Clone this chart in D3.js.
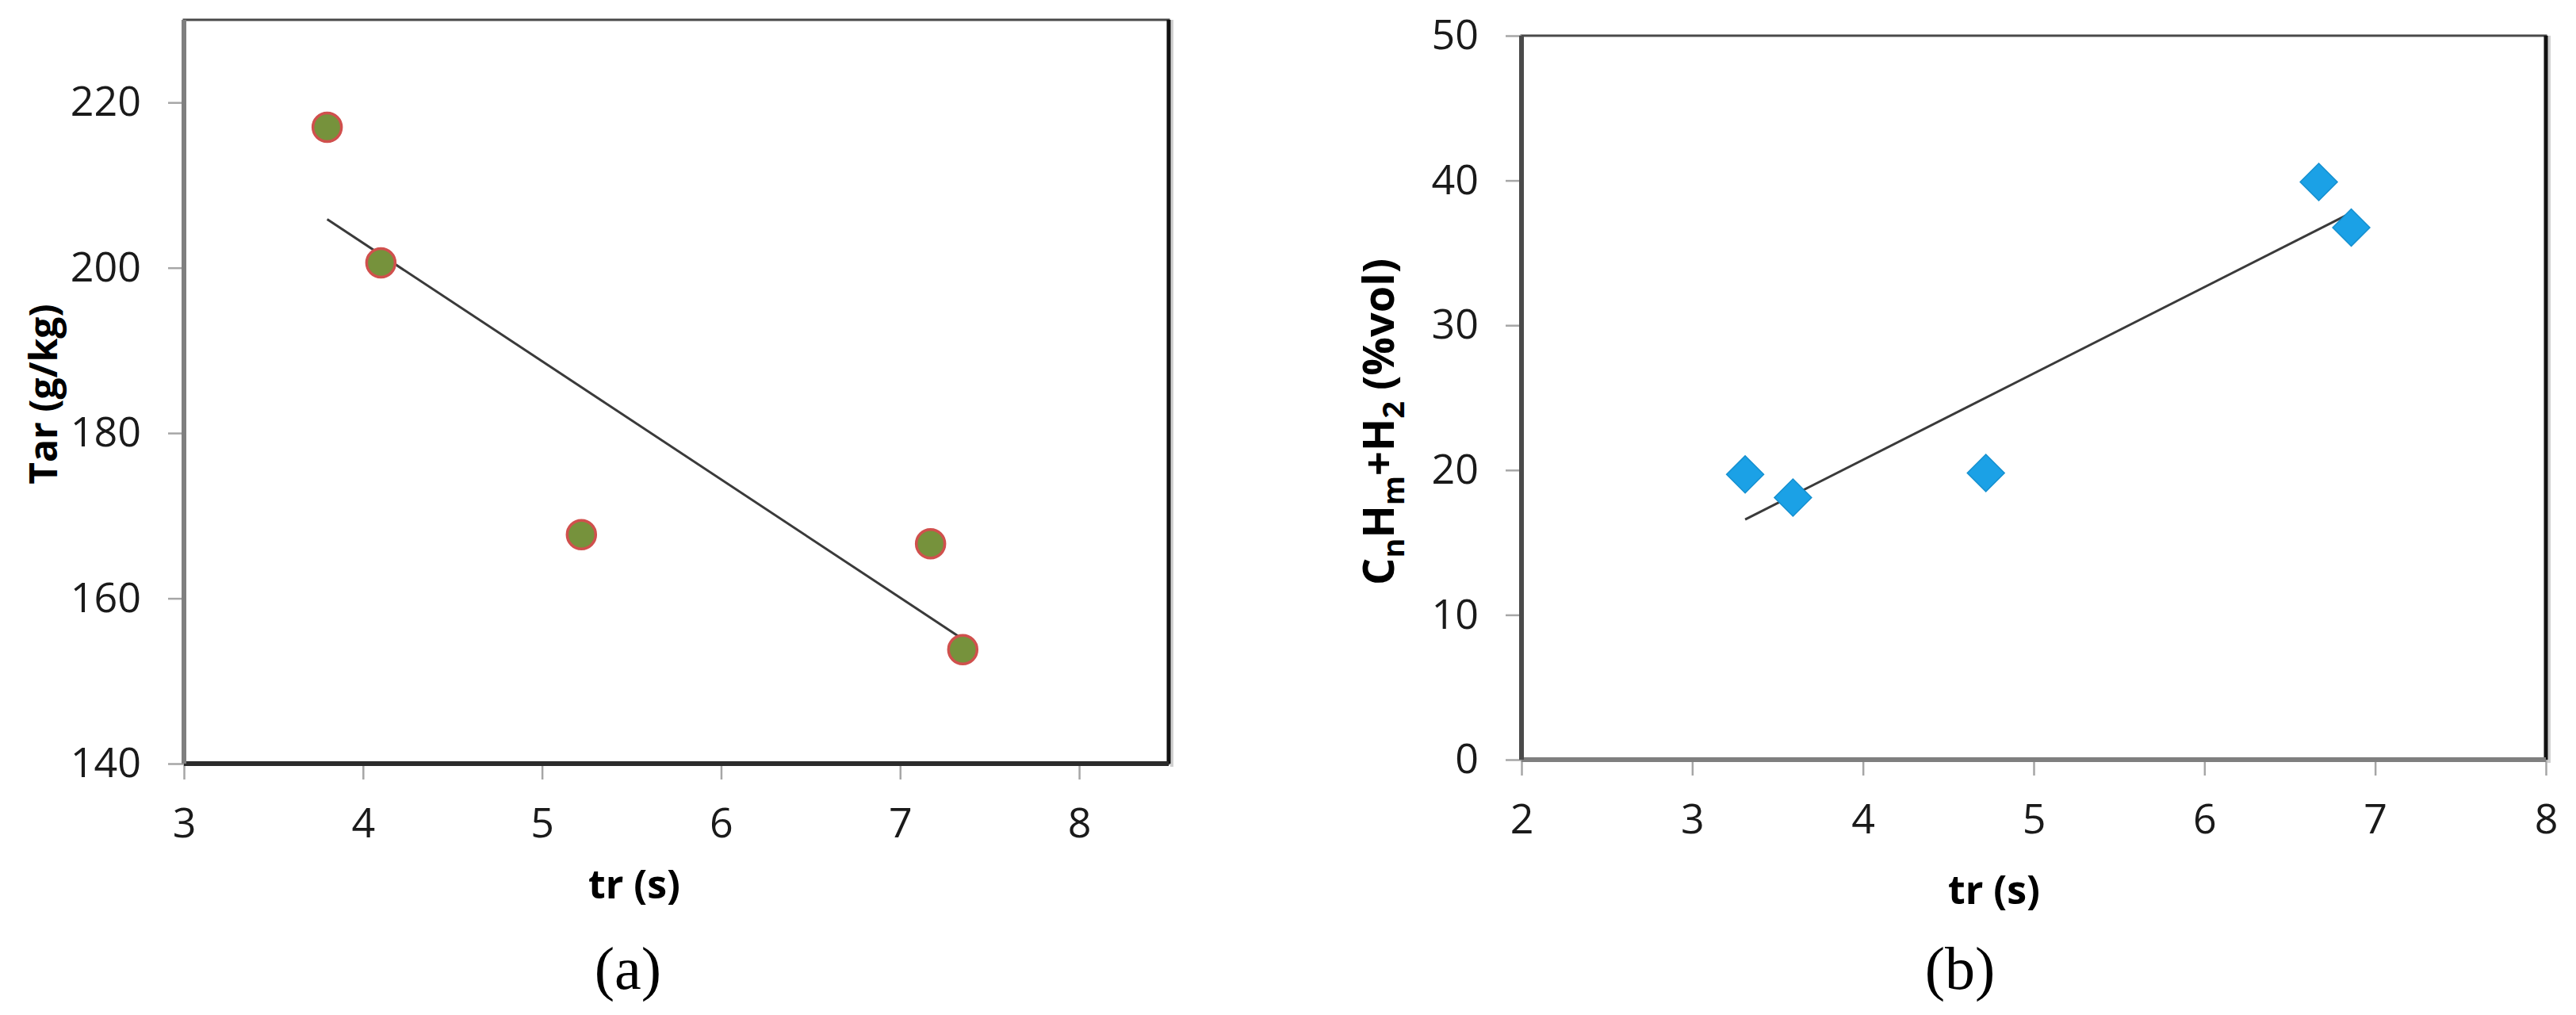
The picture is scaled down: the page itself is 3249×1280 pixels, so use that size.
<!DOCTYPE html>
<html>
<head>
<meta charset="utf-8">
<script src="https://cdn.jsdelivr.net/npm/d3@7"></script>
<style>
  body { margin: 0; background: #fff; }
  svg text { font-family: "Open Sans", "Noto Sans", sans-serif; }
</style>
</head>
<body>
<div id="chart"></div>
<script>
// Panel (a): tar yield vs residence time
const trA = [3.8, 4.1, 5.22, 7.17, 7.35];
const tarA = [217, 200.6, 167.7, 166.6, 153.8];
const xTicksA = [3, 4, 5, 6, 7, 8];
const yTicksA = [140, 160, 180, 200, 220];

// Panel (b): CnHm + H2 vs residence time
const trB = [3.31, 3.59, 4.72, 6.67, 6.86];
const gasB = [19.7, 18.1, 19.8, 39.9, 36.75];
const xTicksB = [2, 3, 4, 5, 6, 7, 8];
const yTicksB = [0, 10, 20, 30, 40, 50];

const W = 3249, H = 1280;

const svg = d3.select("#chart")
  .append("svg")
  .attr("width", W)
  .attr("height", H);

/************************************
 * least squares line, like excel trendline
 ************************************/
const fitLine = (xs, ys) => {
  const mx = d3.mean(xs), my = d3.mean(ys);
  const sxy = d3.sum(xs, (x, i) => (x - mx) * (ys[i] - my));
  const sxx = d3.sum(xs, x => (x - mx) * (x - mx));
  const b = sxy / sxx;
  const a = my - b * mx;
  const x0 = d3.min(xs), x1 = d3.max(xs);
  return [[x0, a + b * x0], [x1, a + b * x1]];
};

/************************************
 * draw one panel
 ************************************/
const drawPanel = (opt) => {
  const g = svg.append("g");
  const x = d3.scaleLinear().domain(opt.xDomain).range([opt.left, opt.right]);
  const y = d3.scaleLinear().domain(opt.yDomain).range([opt.bottom, opt.top]);

  // plot area frame
  g.append("rect")
    .attr("x", opt.left)
    .attr("y", opt.top)
    .attr("width", opt.right - opt.left)
    .attr("height", opt.bottom - opt.top)
    .attr("fill", "#fff")
    .attr("stroke", "#4a4a4a")
    .attr("stroke-width", 3);

  // right edge shadow
  g.append("line")
    .attr("x1", opt.right + 4).attr("x2", opt.right + 4)
    .attr("y1", opt.top).attr("y2", opt.bottom + 4)
    .attr("stroke", "#d0d0d0").attr("stroke-width", 4);
  g.append("line")
    .attr("x1", opt.right).attr("x2", opt.right)
    .attr("y1", opt.top).attr("y2", opt.bottom)
    .attr("stroke", "#111").attr("stroke-width", 5);

  // axes
  const xAxis = d3.axisBottom(x)
    .tickValues(opt.xTicks)
    .tickSize(20)
    .tickPadding(36)
    .tickFormat(d3.format("d"));
  const yAxis = d3.axisLeft(y)
    .tickValues(opt.yTicks)
    .tickSize(20)
    .tickPadding(34)
    .tickFormat(d3.format("d"));

  const gx = g.append("g")
    .attr("transform", "translate(0," + opt.bottom + ")")
    .call(xAxis);
  const gy = g.append("g")
    .attr("transform", "translate(" + opt.left + ",0)")
    .call(yAxis);

  [gx, gy].forEach(a => {
    a.select(".domain").remove();
    a.selectAll(".tick line").attr("stroke", "#a6a6a6").attr("stroke-width", 2.5);
    a.selectAll(".tick text")
      .attr("fill", "#1a1a1a")
      .style("font-size", "52px");
  });

  // axis lines
  g.append("line")
    .attr("x1", opt.left).attr("x2", opt.right)
    .attr("y1", opt.bottom).attr("y2", opt.bottom)
    .attr("stroke", opt.xLineColor).attr("stroke-width", 6);
  g.append("line")
    .attr("x1", opt.left).attr("x2", opt.left)
    .attr("y1", opt.top).attr("y2", opt.bottom)
    .attr("stroke", opt.yLineColor).attr("stroke-width", 6);

  // trend line
  const fit = fitLine(opt.xs, opt.ys);
  g.append("line")
    .attr("x1", x(fit[0][0])).attr("y1", y(fit[0][1]))
    .attr("x2", x(fit[1][0])).attr("y2", y(fit[1][1]))
    .attr("stroke", "#3a3a3a")
    .attr("stroke-width", 3);

  // points
  const pts = opt.xs.map((v, i) => [v, opt.ys[i]]);
  if (opt.marker === "circle") {
    g.selectAll("circle.pt")
      .data(pts)
      .enter()
      .append("circle")
      .attr("class", "pt")
      .attr("cx", d => x(d[0]))
      .attr("cy", d => y(d[1]))
      .attr("r", 18)
      .attr("fill", "#76923C")
      .attr("stroke", "#D0504D")
      .attr("stroke-width", 3.5);
  } else {
    g.selectAll("path.pt")
      .data(pts)
      .enter()
      .append("path")
      .attr("class", "pt")
      .attr("d", d3.symbol(d3.symbolSquare, 1100))
      .attr("transform", d => "translate(" + x(d[0]) + "," + y(d[1]) + ") rotate(45)")
      .attr("fill", "#1BA1E6")
      .attr("stroke", "#1590d0")
      .attr("stroke-width", 1.5);
  }

  // x axis title
  g.append("text")
    .attr("x", opt.xTitleX)
    .attr("y", opt.xTitleY)
    .attr("text-anchor", "middle")
    .style("font-size", "50px")
    .style("font-weight", "bold")
    .text("tr (s)");

  // panel letter
  g.append("text")
    .attr("x", opt.capX)
    .attr("y", 1247)
    .attr("text-anchor", "middle")
    .style("font-family", "'Liberation Serif', 'DejaVu Serif', serif")
    .style("font-size", "76px")
    .text("(" + opt.letter + ")");

  return g;
};

const ga = drawPanel({
  xs: trA, ys: tarA,
  xDomain: [3, 8.5], yDomain: [140, 230],
  xTicks: xTicksA, yTicks: yTicksA,
  left: 232, right: 1474, top: 25, bottom: 963,
  xLineColor: "#2b2b2b", yLineColor: "#7f7f7f",
  marker: "circle",
  xTitleX: 800, xTitleY: 1133,
  capX: 792, letter: "a"
});

// Add y axis label (a)
ga.append("text")
  .attr("transform", "translate(72,497) rotate(-90)")
  .attr("text-anchor", "middle")
  .style("font-size", "48px")
  .style("font-weight", "bold")
  .text("Tar (g/kg)");

const gb = drawPanel({
  xs: trB, ys: gasB,
  xDomain: [2, 8], yDomain: [0, 50],
  xTicks: xTicksB, yTicks: yTicksB,
  left: 1919, right: 3211, top: 45, bottom: 958,
  xLineColor: "#7f7f7f", yLineColor: "#4a4a4a",
  marker: "diamond",
  xTitleX: 2515, xTitleY: 1140,
  capX: 2472, letter: "b"
});

// Add y axis label (b) with subscripts
const yb = gb.append("text")
  .attr("transform", "translate(1758,532) rotate(-90)")
  .attr("text-anchor", "middle")
  .style("font-size", "54px")
  .style("font-weight", "bold");
yb.append("tspan").text("C");
yb.append("tspan").attr("dy", 13).style("font-size", "38px").text("n");
yb.append("tspan").attr("dy", -13).text("H");
yb.append("tspan").attr("dy", 13).style("font-size", "38px").text("m");
yb.append("tspan").attr("dy", -13).text("+H");
yb.append("tspan").attr("dy", 13).style("font-size", "38px").text("2");
yb.append("tspan").attr("dy", -13).text(" (%vol)");
</script>
</body>
</html>
